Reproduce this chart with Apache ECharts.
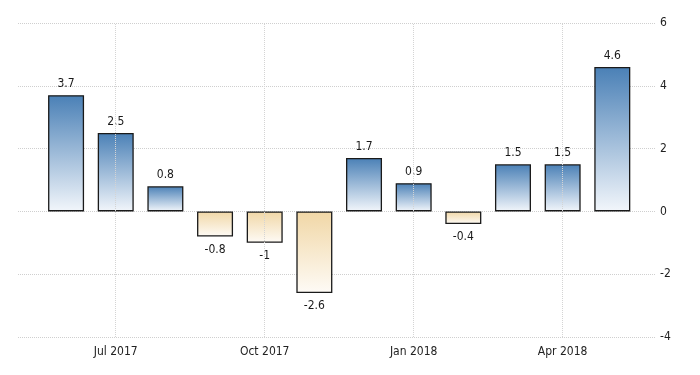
<!DOCTYPE html>
<html><head><meta charset="utf-8">
<script src="https://cdn.jsdelivr.net/npm/echarts@6/dist/echarts.min.js"></script>
<style>html,body{margin:0;padding:0;background:#fff}#c{width:700px;height:375px}</style>
</head><body><div id="c"></div>
<script>
var months = ['Jun 2017','Jul 2017','Aug 2017','Sep 2017','Oct 2017','Nov 2017','Dec 2017','Jan 2018','Feb 2018','Mar 2018','Apr 2018','May 2018'];
var values = [3.7, 2.5, 0.8, -0.8, -1, -2.6, 1.7, 0.9, -0.4, 1.5, 1.5, 4.6];
var labelIdx = [1, 4, 7, 10];
var yTicks = [-4, -2, 0, 2, 4, 6];

var FONT = '"DejaVu Sans Condensed", "Liberation Sans", Arial, sans-serif';
var posGrad = {type:'linear',x:0,y:0,x2:0,y2:1,colorStops:[{offset:0,color:'#4a80b6'},{offset:1,color:'#f2f6fb'}]};
var negGrad = {type:'linear',x:0,y:0,x2:0,y2:1,colorStops:[{offset:0,color:'#f1d7a6'},{offset:1,color:'#fefbf6'}]};

var data = values.map(function(v,i){
  return {
    value:[i, v],
    itemStyle:{color: v >= 0 ? posGrad : negGrad},
    label:{position: v >= 0 ? 'top' : 'bottom', distance: v >= 0 ? 5 : 7}
  };
});

var chart = echarts.init(document.getElementById('c'), null, {renderer:'canvas'});
chart.setOption({
  animation:false,
  grid:{left:18, right:44, top:23, bottom:38, containLabel:false},
  xAxis:{
    type:'value', min:-0.968, max:11.88,
    axisLine:{show:false}, axisTick:{show:false}, splitLine:{show:false},
    axisLabel:{customValues:labelIdx, margin:9, color:'#222', fontSize:12, fontFamily:FONT,
      formatter:function(v){ return months[Math.round(v)] || ''; }}
  },
  yAxis:{
    type:'value', position:'right', min:yTicks[0], max:yTicks[yTicks.length-1], interval:2,
    axisLine:{show:false}, axisTick:{show:false},
    axisLabel:{margin:4, color:'#222', fontSize:12, fontFamily:FONT},
    splitLine:{lineStyle:{color:'#cfcfcf', type:[1,1], width:1}}
  },
  series:[{
    type:'bar',
    data:data,
    barWidth:36,
    itemStyle:{borderColor:'#1a1a1a', borderWidth:1.3},
    label:{show:true, color:'#1a1a1a', fontSize:12, fontFamily:FONT,
      formatter:function(p){ return String(p.value[1]); }},
    markLine:{
      silent:true, symbol:['none','none'], label:{show:false},
      lineStyle:{color:'#d4d4d4', type:[1,1], width:1},
      data: labelIdx.map(function(i){ return {xAxis:i}; })
    },
    z:3
  }]
});
</script></body></html>
